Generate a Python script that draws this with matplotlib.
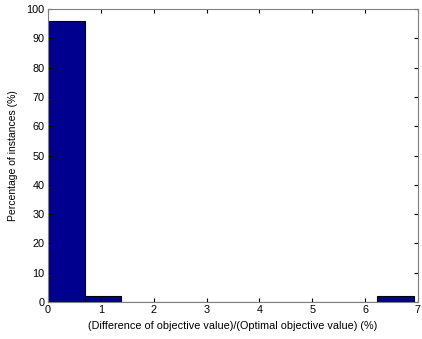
import matplotlib
matplotlib.use("Agg")
import matplotlib.pyplot as plt
import numpy as np

# Histogram data (percent of instances per bin)
bin_min = 0.0
bin_max = 6.92
n_bins = 10
percentages = [96, 2, 0, 0, 0, 0, 0, 0, 0, 2]
x_ticks = [0, 1, 2, 3, 4, 5, 6, 7]
y_ticks = [0, 10, 20, 30, 40, 50, 60, 70, 80, 90, 100]

plt.rcParams['font.family'] = ['Liberation Sans', 'DejaVu Sans']

fig = plt.figure(figsize=(4.22, 3.39), dpi=100)
ax = fig.add_axes([48/422, 1 - 302/339, 370/422, 293/339])

edges = np.linspace(bin_min, bin_max, n_bins + 1)
widths = np.diff(edges)
ax.bar(edges[:-1], percentages, width=widths, align='edge',
       color='#00008F', edgecolor='black', linewidth=0.8)

ax.set_xlim(0, 7)
ax.set_ylim(0, 100)
ax.set_xticks(x_ticks)
ax.set_yticks(y_ticks)
ax.tick_params(direction='in', top=True, right=True, length=3, width=0.8,
               labelsize=7.8, colors='black', pad=2.5)
for s in ax.spines.values():
    s.set_color('#808080')
    s.set_linewidth(0.8)

ax.set_xlabel('(Difference of objective value)/(Optimal objective value) (%)', fontsize=7.8, labelpad=4)
ax.set_ylabel('Percentage of instances (%)', fontsize=7.5, labelpad=6)

fig.savefig('out.png', dpi=100)
